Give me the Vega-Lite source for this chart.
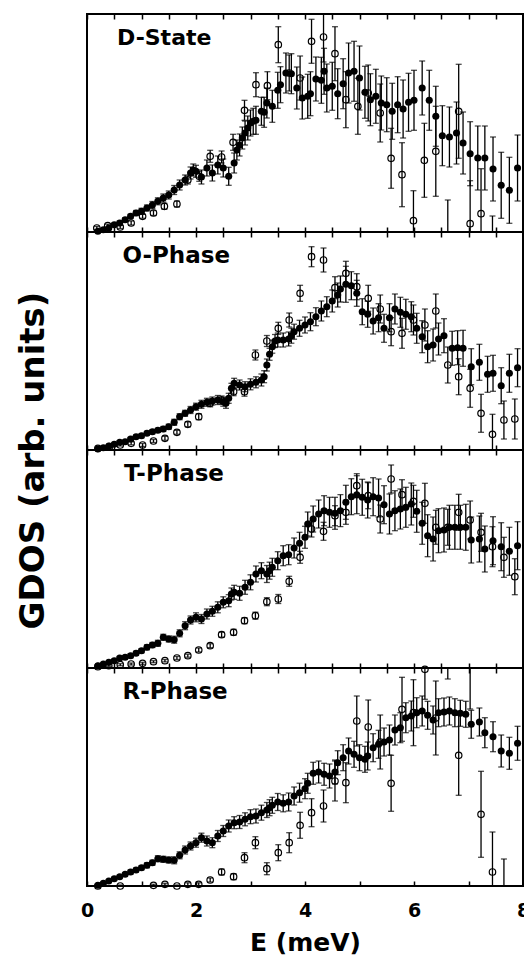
{
"$schema": "https://vega.github.io/schema/vega-lite/v6.json",
"padding": {"left": 14, "top": 12, "right": 0, "bottom": 0},
"spacing": 0,
"bounds": "flush",
"background": "white",
"datasets": {
"pts": [
{"p":"D","s":"f","E":0.2,"y":0.7,"e":1},{"p":"D","s":"f","E":0.3,"y":2.3,"e":1},{"p":"D","s":"f","E":0.4,"y":4,"e":1.5},{"p":"D","s":"f","E":0.5,"y":7.3,"e":1.5},{"p":"D","s":"f","E":0.6,"y":9,"e":2},{"p":"D","s":"f","E":0.7,"y":12.3,"e":2},{"p":"D","s":"f","E":0.8,"y":15.7,"e":2},{"p":"D","s":"f","E":0.9,"y":19,"e":2.5},{"p":"D","s":"f","E":1.0,"y":20.7,"e":3},{"p":"D","s":"f","E":1.1,"y":24,"e":3},{"p":"D","s":"f","E":1.2,"y":27,"e":3.5},{"p":"D","s":"f","E":1.3,"y":30.7,"e":3.5},{"p":"D","s":"f","E":1.4,"y":34,"e":4},{"p":"D","s":"f","E":1.5,"y":37,"e":4},{"p":"D","s":"f","E":1.6,"y":42,"e":4.5},{"p":"D","s":"f","E":1.7,"y":47,"e":5},{"p":"D","s":"f","E":1.8,"y":52,"e":5},{"p":"D","s":"f","E":1.9,"y":59,"e":6},{"p":"D","s":"f","E":1.95,"y":62,"e":6},{"p":"D","s":"f","E":2.0,"y":60.7,"e":6},{"p":"D","s":"f","E":2.1,"y":55,"e":7},{"p":"D","s":"f","E":2.2,"y":64,"e":8},{"p":"D","s":"f","E":2.3,"y":59,"e":8},{"p":"D","s":"f","E":2.4,"y":67,"e":9},{"p":"D","s":"f","E":2.5,"y":64,"e":9},{"p":"D","s":"f","E":2.6,"y":55.7,"e":9},{"p":"D","s":"f","E":2.7,"y":69,"e":10},{"p":"D","s":"f","E":2.75,"y":82,"e":10},{"p":"D","s":"f","E":2.8,"y":87,"e":11},{"p":"D","s":"f","E":2.85,"y":94,"e":11},{"p":"D","s":"f","E":2.9,"y":99,"e":12},{"p":"D","s":"f","E":2.95,"y":104,"e":12},{"p":"D","s":"f","E":3.0,"y":109,"e":13},{"p":"D","s":"f","E":3.05,"y":110.7,"e":13},{"p":"D","s":"f","E":3.1,"y":111.7,"e":14},{"p":"D","s":"f","E":3.2,"y":120.7,"e":14},{"p":"D","s":"f","E":3.25,"y":119.7,"e":15},{"p":"D","s":"f","E":3.3,"y":129,"e":15},{"p":"D","s":"f","E":3.4,"y":125.7,"e":16},{"p":"D","s":"f","E":3.5,"y":141.7,"e":18},{"p":"D","s":"f","E":3.55,"y":147.3,"e":18},{"p":"D","s":"f","E":3.65,"y":159,"e":20},{"p":"D","s":"f","E":3.75,"y":158.3,"e":20},{"p":"D","s":"f","E":3.85,"y":144,"e":21},{"p":"D","s":"f","E":3.95,"y":134,"e":21},{"p":"D","s":"f","E":4.05,"y":135.7,"e":22},{"p":"D","s":"f","E":4.1,"y":138.3,"e":22},{"p":"D","s":"f","E":4.2,"y":153,"e":22},{"p":"D","s":"f","E":4.3,"y":151.7,"e":23},{"p":"D","s":"f","E":4.35,"y":160.7,"e":23},{"p":"D","s":"f","E":4.4,"y":144,"e":24},{"p":"D","s":"f","E":4.5,"y":145.7,"e":24},{"p":"D","s":"f","E":4.6,"y":138.3,"e":25},{"p":"D","s":"f","E":4.7,"y":148.3,"e":25},{"p":"D","s":"f","E":4.8,"y":159,"e":30},{"p":"D","s":"f","E":4.9,"y":160.7,"e":30},{"p":"D","s":"f","E":5.0,"y":154,"e":32},{"p":"D","s":"f","E":5.1,"y":139.7,"e":26},{"p":"D","s":"f","E":5.2,"y":132.3,"e":26},{"p":"D","s":"f","E":5.3,"y":135.7,"e":27},{"p":"D","s":"f","E":5.4,"y":129,"e":27},{"p":"D","s":"f","E":5.5,"y":127.3,"e":27},{"p":"D","s":"f","E":5.6,"y":120.7,"e":28},{"p":"D","s":"f","E":5.7,"y":127.3,"e":28},{"p":"D","s":"f","E":5.8,"y":123,"e":29},{"p":"D","s":"f","E":5.9,"y":129.7,"e":29},{"p":"D","s":"f","E":6.0,"y":131.7,"e":30},{"p":"D","s":"f","E":6.15,"y":144,"e":27},{"p":"D","s":"f","E":6.28,"y":131.7,"e":30},{"p":"D","s":"f","E":6.4,"y":115.7,"e":30},{"p":"D","s":"f","E":6.52,"y":96.3,"e":30},{"p":"D","s":"f","E":6.65,"y":95,"e":30},{"p":"D","s":"f","E":6.78,"y":99,"e":31},{"p":"D","s":"f","E":6.9,"y":89,"e":31},{"p":"D","s":"f","E":7.03,"y":78.3,"e":32},{"p":"D","s":"f","E":7.17,"y":74,"e":32},{"p":"D","s":"f","E":7.3,"y":74,"e":32},{"p":"D","s":"f","E":7.45,"y":63,"e":32},{"p":"D","s":"f","E":7.6,"y":46.7,"e":33},{"p":"D","s":"f","E":7.75,"y":41.7,"e":33},{"p":"D","s":"f","E":7.9,"y":64,"e":33},
{"p":"D","s":"o","E":0.18,"y":4,"e":1.5},{"p":"D","s":"o","E":0.38,"y":6.3,"e":1.5},{"p":"D","s":"o","E":0.61,"y":5,"e":1.5},{"p":"D","s":"o","E":0.81,"y":9,"e":2},{"p":"D","s":"o","E":1.02,"y":15.7,"e":2},{"p":"D","s":"o","E":1.22,"y":19,"e":2.5},{"p":"D","s":"o","E":1.42,"y":25.7,"e":3},{"p":"D","s":"o","E":1.65,"y":28,"e":3},{"p":"D","s":"o","E":1.85,"y":52,"e":4},{"p":"D","s":"o","E":2.06,"y":55.7,"e":5},{"p":"D","s":"o","E":2.26,"y":75.7,"e":6},{"p":"D","s":"o","E":2.47,"y":75,"e":6},{"p":"D","s":"o","E":2.68,"y":89.7,"e":8},{"p":"D","s":"o","E":2.89,"y":121.7,"e":10},{"p":"D","s":"o","E":3.1,"y":147.3,"e":12},{"p":"D","s":"o","E":3.31,"y":146.3,"e":14},{"p":"D","s":"o","E":3.51,"y":187.3,"e":18},{"p":"D","s":"o","E":3.71,"y":159,"e":18},{"p":"D","s":"o","E":3.91,"y":154,"e":22},{"p":"D","s":"o","E":4.12,"y":190.7,"e":22},{"p":"D","s":"o","E":4.34,"y":195,"e":25},{"p":"D","s":"o","E":4.55,"y":178.3,"e":27},{"p":"D","s":"o","E":4.75,"y":132.3,"e":28},{"p":"D","s":"o","E":4.97,"y":125.7,"e":28},{"p":"D","s":"o","E":5.16,"y":139,"e":28},{"p":"D","s":"o","E":5.38,"y":119,"e":29},{"p":"D","s":"o","E":5.58,"y":73.7,"e":30},{"p":"D","s":"o","E":5.78,"y":57.3,"e":32},{"p":"D","s":"o","E":5.99,"y":11.3,"e":30},{"p":"D","s":"o","E":6.19,"y":71.7,"e":37},{"p":"D","s":"o","E":6.4,"y":80.7,"e":45},{"p":"D","s":"o","E":6.62,"y":-8,"e":40},{"p":"D","s":"o","E":6.82,"y":120.7,"e":47},{"p":"D","s":"o","E":7.03,"y":8.3,"e":43},{"p":"D","s":"o","E":7.23,"y":18.3,"e":45},{"p":"D","s":"o","E":7.44,"y":-10,"e":26},
{"p":"O","s":"f","E":0.2,"y":1,"e":1},{"p":"O","s":"f","E":0.3,"y":2.3,"e":1},{"p":"O","s":"f","E":0.4,"y":4,"e":1},{"p":"O","s":"f","E":0.5,"y":5.7,"e":1},{"p":"O","s":"f","E":0.6,"y":7.7,"e":1.5},{"p":"O","s":"f","E":0.7,"y":8.3,"e":1.5},{"p":"O","s":"f","E":0.8,"y":11,"e":1.5},{"p":"O","s":"f","E":0.9,"y":13.3,"e":1.5},{"p":"O","s":"f","E":1.0,"y":14.3,"e":2},{"p":"O","s":"f","E":1.1,"y":16.7,"e":2},{"p":"O","s":"f","E":1.2,"y":18.3,"e":2},{"p":"O","s":"f","E":1.3,"y":19.7,"e":2},{"p":"O","s":"f","E":1.4,"y":21,"e":2.5},{"p":"O","s":"f","E":1.5,"y":23.3,"e":2.5},{"p":"O","s":"f","E":1.6,"y":27.7,"e":3},{"p":"O","s":"f","E":1.7,"y":33.3,"e":3},{"p":"O","s":"f","E":1.8,"y":36.7,"e":3},{"p":"O","s":"f","E":1.9,"y":40,"e":3.5},{"p":"O","s":"f","E":2.0,"y":43.3,"e":3.5},{"p":"O","s":"f","E":2.1,"y":45.7,"e":4},{"p":"O","s":"f","E":2.2,"y":47.7,"e":4},{"p":"O","s":"f","E":2.3,"y":49,"e":4},{"p":"O","s":"f","E":2.4,"y":50,"e":4.5},{"p":"O","s":"f","E":2.5,"y":48.3,"e":4.5},{"p":"O","s":"f","E":2.55,"y":46.7,"e":5},{"p":"O","s":"f","E":2.6,"y":51.7,"e":5},{"p":"O","s":"f","E":2.65,"y":61.7,"e":5},{"p":"O","s":"f","E":2.7,"y":66.7,"e":5},{"p":"O","s":"f","E":2.8,"y":65,"e":5},{"p":"O","s":"f","E":2.9,"y":63.3,"e":5},{"p":"O","s":"f","E":3.0,"y":65.7,"e":5.5},{"p":"O","s":"f","E":3.1,"y":67.7,"e":5.5},{"p":"O","s":"f","E":3.2,"y":70,"e":6},{"p":"O","s":"f","E":3.25,"y":73.3,"e":6},{"p":"O","s":"f","E":3.3,"y":85,"e":6},{"p":"O","s":"f","E":3.35,"y":95.7,"e":6},{"p":"O","s":"f","E":3.4,"y":103.3,"e":6.5},{"p":"O","s":"f","E":3.45,"y":109,"e":6.5},{"p":"O","s":"f","E":3.5,"y":110,"e":7},{"p":"O","s":"f","E":3.6,"y":110,"e":7},{"p":"O","s":"f","E":3.7,"y":111,"e":7},{"p":"O","s":"f","E":3.75,"y":114.3,"e":7.5},{"p":"O","s":"f","E":3.8,"y":118.3,"e":7.5},{"p":"O","s":"f","E":3.9,"y":121.7,"e":8},{"p":"O","s":"f","E":4.0,"y":125,"e":8},{"p":"O","s":"f","E":4.1,"y":128.3,"e":9},{"p":"O","s":"f","E":4.2,"y":133.3,"e":9},{"p":"O","s":"f","E":4.3,"y":139,"e":10},{"p":"O","s":"f","E":4.4,"y":143.3,"e":10},{"p":"O","s":"f","E":4.5,"y":149,"e":11},{"p":"O","s":"f","E":4.6,"y":155,"e":12},{"p":"O","s":"f","E":4.65,"y":161,"e":13},{"p":"O","s":"f","E":4.75,"y":165.7,"e":18},{"p":"O","s":"f","E":4.85,"y":164.3,"e":14},{"p":"O","s":"f","E":4.95,"y":156.7,"e":13},{"p":"O","s":"f","E":5.05,"y":138.3,"e":13},{"p":"O","s":"f","E":5.15,"y":135.7,"e":13},{"p":"O","s":"f","E":5.25,"y":129,"e":13},{"p":"O","s":"f","E":5.35,"y":132.3,"e":14},{"p":"O","s":"f","E":5.45,"y":121.7,"e":14},{"p":"O","s":"f","E":5.55,"y":132.3,"e":14},{"p":"O","s":"f","E":5.65,"y":141,"e":15},{"p":"O","s":"f","E":5.75,"y":137.7,"e":15},{"p":"O","s":"f","E":5.85,"y":135.7,"e":15},{"p":"O","s":"f","E":5.95,"y":133.3,"e":15},{"p":"O","s":"f","E":6.05,"y":121.7,"e":15},{"p":"O","s":"f","E":6.15,"y":113.3,"e":16},{"p":"O","s":"f","E":6.25,"y":103.3,"e":16},{"p":"O","s":"f","E":6.35,"y":105,"e":16},{"p":"O","s":"f","E":6.45,"y":111,"e":16},{"p":"O","s":"f","E":6.55,"y":114.3,"e":17},{"p":"O","s":"f","E":6.7,"y":101.7,"e":17},{"p":"O","s":"f","E":6.8,"y":102.3,"e":17},{"p":"O","s":"f","E":6.9,"y":101.7,"e":18},{"p":"O","s":"f","E":7.05,"y":83.3,"e":18},{"p":"O","s":"f","E":7.2,"y":87.7,"e":18},{"p":"O","s":"f","E":7.35,"y":75.7,"e":18},{"p":"O","s":"f","E":7.45,"y":76.7,"e":18},{"p":"O","s":"f","E":7.6,"y":64.3,"e":18},{"p":"O","s":"f","E":7.75,"y":76.7,"e":19},{"p":"O","s":"f","E":7.9,"y":82.3,"e":19},
{"p":"O","s":"o","E":0.2,"y":1.7,"e":1},{"p":"O","s":"o","E":0.41,"y":3.3,"e":1},{"p":"O","s":"o","E":0.61,"y":5,"e":1},{"p":"O","s":"o","E":0.81,"y":6.7,"e":1.5},{"p":"O","s":"o","E":1.02,"y":5,"e":1.5},{"p":"O","s":"o","E":1.22,"y":9,"e":1.5},{"p":"O","s":"o","E":1.43,"y":11.7,"e":2},{"p":"O","s":"o","E":1.65,"y":17.7,"e":2},{"p":"O","s":"o","E":1.85,"y":25.7,"e":2.5},{"p":"O","s":"o","E":2.05,"y":33.3,"e":3},{"p":"O","s":"o","E":2.26,"y":46.7,"e":3.5},{"p":"O","s":"o","E":2.47,"y":50,"e":4},{"p":"O","s":"o","E":2.69,"y":58.3,"e":4},{"p":"O","s":"o","E":2.89,"y":58.3,"e":4.5},{"p":"O","s":"o","E":3.09,"y":95,"e":5},{"p":"O","s":"o","E":3.3,"y":109,"e":5.5},{"p":"O","s":"o","E":3.51,"y":121.7,"e":6},{"p":"O","s":"o","E":3.71,"y":130,"e":7},{"p":"O","s":"o","E":3.91,"y":156.7,"e":8},{"p":"O","s":"o","E":4.12,"y":193.3,"e":10},{"p":"O","s":"o","E":4.34,"y":190,"e":12},{"p":"O","s":"o","E":4.55,"y":162.3,"e":11},{"p":"O","s":"o","E":4.75,"y":176.7,"e":12},{"p":"O","s":"o","E":4.95,"y":163.3,"e":13},{"p":"O","s":"o","E":5.16,"y":151.7,"e":13},{"p":"O","s":"o","E":5.38,"y":141,"e":14},{"p":"O","s":"o","E":5.58,"y":118.3,"e":14},{"p":"O","s":"o","E":5.78,"y":116.7,"e":15},{"p":"O","s":"o","E":5.99,"y":130,"e":15},{"p":"O","s":"o","E":6.2,"y":125,"e":16},{"p":"O","s":"o","E":6.4,"y":139,"e":17},{"p":"O","s":"o","E":6.62,"y":85,"e":18},{"p":"O","s":"o","E":6.82,"y":73.3,"e":18},{"p":"O","s":"o","E":7.03,"y":61.7,"e":19},{"p":"O","s":"o","E":7.23,"y":36.7,"e":19},{"p":"O","s":"o","E":7.44,"y":15.7,"e":20},{"p":"O","s":"o","E":7.65,"y":30,"e":19},{"p":"O","s":"o","E":7.85,"y":31,"e":20},
{"p":"T","s":"f","E":0.2,"y":2.3,"e":1},{"p":"T","s":"f","E":0.3,"y":4,"e":1},{"p":"T","s":"f","E":0.4,"y":5.7,"e":1},{"p":"T","s":"f","E":0.5,"y":7.3,"e":1.5},{"p":"T","s":"f","E":0.6,"y":10,"e":1.5},{"p":"T","s":"f","E":0.7,"y":10.7,"e":1.5},{"p":"T","s":"f","E":0.8,"y":12.3,"e":2},{"p":"T","s":"f","E":0.9,"y":14.7,"e":2},{"p":"T","s":"f","E":1.0,"y":17.3,"e":2},{"p":"T","s":"f","E":1.1,"y":20.7,"e":2.5},{"p":"T","s":"f","E":1.2,"y":23,"e":2.5},{"p":"T","s":"f","E":1.3,"y":24.7,"e":3},{"p":"T","s":"f","E":1.4,"y":30.7,"e":3},{"p":"T","s":"f","E":1.5,"y":29,"e":3},{"p":"T","s":"f","E":1.6,"y":28.3,"e":3.5},{"p":"T","s":"f","E":1.7,"y":34.7,"e":3.5},{"p":"T","s":"f","E":1.8,"y":42.3,"e":4},{"p":"T","s":"f","E":1.9,"y":48,"e":4},{"p":"T","s":"f","E":2.0,"y":50.7,"e":4.5},{"p":"T","s":"f","E":2.1,"y":49,"e":4.5},{"p":"T","s":"f","E":2.2,"y":54,"e":5},{"p":"T","s":"f","E":2.3,"y":56.7,"e":5},{"p":"T","s":"f","E":2.4,"y":60.7,"e":5.5},{"p":"T","s":"f","E":2.5,"y":65.7,"e":5.5},{"p":"T","s":"f","E":2.6,"y":67.3,"e":6},{"p":"T","s":"f","E":2.65,"y":74,"e":6},{"p":"T","s":"f","E":2.7,"y":75.7,"e":7},{"p":"T","s":"f","E":2.8,"y":74.7,"e":7},{"p":"T","s":"f","E":2.9,"y":80.7,"e":7},{"p":"T","s":"f","E":3.0,"y":85.7,"e":7.5},{"p":"T","s":"f","E":3.1,"y":94,"e":8},{"p":"T","s":"f","E":3.2,"y":97.3,"e":8},{"p":"T","s":"f","E":3.3,"y":94,"e":8.5},{"p":"T","s":"f","E":3.35,"y":97.3,"e":8.5},{"p":"T","s":"f","E":3.4,"y":100.7,"e":9},{"p":"T","s":"f","E":3.5,"y":107.3,"e":9},{"p":"T","s":"f","E":3.6,"y":112.3,"e":10},{"p":"T","s":"f","E":3.7,"y":113.3,"e":10},{"p":"T","s":"f","E":3.8,"y":120,"e":10},{"p":"T","s":"f","E":3.9,"y":124.7,"e":11},{"p":"T","s":"f","E":4.0,"y":130.7,"e":11},{"p":"T","s":"f","E":4.05,"y":144,"e":12},{"p":"T","s":"f","E":4.15,"y":149,"e":13},{"p":"T","s":"f","E":4.25,"y":154,"e":14},{"p":"T","s":"f","E":4.35,"y":157.3,"e":15},{"p":"T","s":"f","E":4.45,"y":155.7,"e":15},{"p":"T","s":"f","E":4.55,"y":154.7,"e":16},{"p":"T","s":"f","E":4.65,"y":157.3,"e":16},{"p":"T","s":"f","E":4.75,"y":165.7,"e":17},{"p":"T","s":"f","E":4.85,"y":171.3,"e":18},{"p":"T","s":"f","E":4.95,"y":173.3,"e":19},{"p":"T","s":"f","E":5.05,"y":170.7,"e":18},{"p":"T","s":"f","E":5.15,"y":168,"e":18},{"p":"T","s":"f","E":5.25,"y":171.3,"e":19},{"p":"T","s":"f","E":5.35,"y":170,"e":19},{"p":"T","s":"f","E":5.45,"y":163.3,"e":19},{"p":"T","s":"f","E":5.55,"y":154,"e":20},{"p":"T","s":"f","E":5.65,"y":157.3,"e":20},{"p":"T","s":"f","E":5.75,"y":159,"e":20},{"p":"T","s":"f","E":5.85,"y":160.7,"e":20},{"p":"T","s":"f","E":5.95,"y":164,"e":21},{"p":"T","s":"f","E":6.05,"y":156.7,"e":21},{"p":"T","s":"f","E":6.15,"y":144.7,"e":21},{"p":"T","s":"f","E":6.25,"y":132.3,"e":21},{"p":"T","s":"f","E":6.35,"y":129,"e":22},{"p":"T","s":"f","E":6.45,"y":137.3,"e":22},{"p":"T","s":"f","E":6.55,"y":138,"e":22},{"p":"T","s":"f","E":6.65,"y":140.7,"e":22},{"p":"T","s":"f","E":6.75,"y":140.7,"e":22},{"p":"T","s":"f","E":6.85,"y":140.7,"e":22},{"p":"T","s":"f","E":6.95,"y":140.7,"e":23},{"p":"T","s":"f","E":7.05,"y":128,"e":23},{"p":"T","s":"f","E":7.2,"y":129,"e":23},{"p":"T","s":"f","E":7.3,"y":119,"e":23},{"p":"T","s":"f","E":7.45,"y":127.3,"e":24},{"p":"T","s":"f","E":7.6,"y":121.3,"e":24},{"p":"T","s":"f","E":7.75,"y":116.7,"e":24},{"p":"T","s":"f","E":7.9,"y":122.3,"e":24},
{"p":"T","s":"o","E":0.2,"y":1.3,"e":0.8},{"p":"T","s":"o","E":0.4,"y":2.3,"e":0.8},{"p":"T","s":"o","E":0.61,"y":3.3,"e":1},{"p":"T","s":"o","E":0.81,"y":4,"e":1},{"p":"T","s":"o","E":1.02,"y":4.7,"e":1},{"p":"T","s":"o","E":1.22,"y":6.3,"e":1},{"p":"T","s":"o","E":1.43,"y":7.3,"e":1.2},{"p":"T","s":"o","E":1.65,"y":10,"e":1.5},{"p":"T","s":"o","E":1.85,"y":12.3,"e":1.5},{"p":"T","s":"o","E":2.05,"y":18,"e":2},{"p":"T","s":"o","E":2.26,"y":22.3,"e":2},{"p":"T","s":"o","E":2.47,"y":33.3,"e":2.5},{"p":"T","s":"o","E":2.69,"y":35.7,"e":3},{"p":"T","s":"o","E":2.89,"y":47.3,"e":3},{"p":"T","s":"o","E":3.09,"y":52.3,"e":3.5},{"p":"T","s":"o","E":3.3,"y":66.3,"e":4},{"p":"T","s":"o","E":3.51,"y":69,"e":4.5},{"p":"T","s":"o","E":3.71,"y":86.7,"e":5},{"p":"T","s":"o","E":3.91,"y":110.7,"e":6},{"p":"T","s":"o","E":4.12,"y":139,"e":8},{"p":"T","s":"o","E":4.34,"y":136.7,"e":9},{"p":"T","s":"o","E":4.55,"y":152.3,"e":10},{"p":"T","s":"o","E":4.75,"y":155.7,"e":12},{"p":"T","s":"o","E":4.95,"y":182.3,"e":12},{"p":"T","s":"o","E":5.16,"y":172.3,"e":13},{"p":"T","s":"o","E":5.38,"y":149,"e":14},{"p":"T","s":"o","E":5.58,"y":189,"e":14},{"p":"T","s":"o","E":5.78,"y":173.3,"e":15},{"p":"T","s":"o","E":5.99,"y":166.7,"e":16},{"p":"T","s":"o","E":6.2,"y":164.7,"e":20},{"p":"T","s":"o","E":6.4,"y":140.7,"e":17},{"p":"T","s":"o","E":6.62,"y":140.7,"e":18},{"p":"T","s":"o","E":6.82,"y":155.7,"e":18},{"p":"T","s":"o","E":7.03,"y":148,"e":19},{"p":"T","s":"o","E":7.23,"y":135.7,"e":19},{"p":"T","s":"o","E":7.44,"y":121.3,"e":20},{"p":"T","s":"o","E":7.65,"y":110.7,"e":20},{"p":"T","s":"o","E":7.85,"y":91.3,"e":18},
{"p":"R","s":"f","E":0.2,"y":0.7,"e":1},{"p":"R","s":"f","E":0.3,"y":2.7,"e":1},{"p":"R","s":"f","E":0.4,"y":5,"e":1},{"p":"R","s":"f","E":0.5,"y":7.3,"e":1.5},{"p":"R","s":"f","E":0.6,"y":9.3,"e":1.5},{"p":"R","s":"f","E":0.7,"y":11.7,"e":1.5},{"p":"R","s":"f","E":0.8,"y":14,"e":2},{"p":"R","s":"f","E":0.9,"y":16,"e":2},{"p":"R","s":"f","E":1.0,"y":18.3,"e":2},{"p":"R","s":"f","E":1.1,"y":20.7,"e":2.5},{"p":"R","s":"f","E":1.2,"y":23.3,"e":2.5},{"p":"R","s":"f","E":1.3,"y":27.3,"e":3},{"p":"R","s":"f","E":1.4,"y":26.7,"e":3},{"p":"R","s":"f","E":1.5,"y":26,"e":3},{"p":"R","s":"f","E":1.6,"y":25.7,"e":3.5},{"p":"R","s":"f","E":1.7,"y":30.7,"e":3.5},{"p":"R","s":"f","E":1.8,"y":36,"e":4},{"p":"R","s":"f","E":1.9,"y":40,"e":4},{"p":"R","s":"f","E":2.0,"y":43.3,"e":4.5},{"p":"R","s":"f","E":2.1,"y":48.3,"e":4.5},{"p":"R","s":"f","E":2.2,"y":45,"e":5},{"p":"R","s":"f","E":2.3,"y":43.3,"e":5},{"p":"R","s":"f","E":2.4,"y":50,"e":5.5},{"p":"R","s":"f","E":2.5,"y":55,"e":5.5},{"p":"R","s":"f","E":2.6,"y":60,"e":6},{"p":"R","s":"f","E":2.7,"y":63.3,"e":6},{"p":"R","s":"f","E":2.8,"y":64,"e":6.5},{"p":"R","s":"f","E":2.9,"y":66.7,"e":6.5},{"p":"R","s":"f","E":3.0,"y":69.3,"e":7},{"p":"R","s":"f","E":3.1,"y":70,"e":7},{"p":"R","s":"f","E":3.2,"y":73.3,"e":7.5},{"p":"R","s":"f","E":3.3,"y":76,"e":7.5},{"p":"R","s":"f","E":3.35,"y":78.3,"e":8},{"p":"R","s":"f","E":3.4,"y":80.7,"e":8},{"p":"R","s":"f","E":3.5,"y":84,"e":8.5},{"p":"R","s":"f","E":3.6,"y":82.7,"e":8.5},{"p":"R","s":"f","E":3.7,"y":84,"e":9},{"p":"R","s":"f","E":3.8,"y":90,"e":9},{"p":"R","s":"f","E":3.9,"y":93.3,"e":9.5},{"p":"R","s":"f","E":4.0,"y":97.3,"e":10},{"p":"R","s":"f","E":4.05,"y":102.7,"e":10},{"p":"R","s":"f","E":4.15,"y":112.7,"e":11},{"p":"R","s":"f","E":4.25,"y":114,"e":11},{"p":"R","s":"f","E":4.35,"y":111.7,"e":11},{"p":"R","s":"f","E":4.45,"y":110,"e":12},{"p":"R","s":"f","E":4.55,"y":114,"e":12},{"p":"R","s":"f","E":4.6,"y":123.3,"e":12},{"p":"R","s":"f","E":4.7,"y":128.3,"e":13},{"p":"R","s":"f","E":4.8,"y":135,"e":13},{"p":"R","s":"f","E":4.9,"y":131.7,"e":13},{"p":"R","s":"f","E":5.0,"y":128.3,"e":13},{"p":"R","s":"f","E":5.1,"y":126.7,"e":13},{"p":"R","s":"f","E":5.15,"y":130,"e":14},{"p":"R","s":"f","E":5.25,"y":138.3,"e":14},{"p":"R","s":"f","E":5.35,"y":141.7,"e":14},{"p":"R","s":"f","E":5.45,"y":144,"e":14},{"p":"R","s":"f","E":5.55,"y":146,"e":15},{"p":"R","s":"f","E":5.65,"y":156,"e":15},{"p":"R","s":"f","E":5.75,"y":158.3,"e":15},{"p":"R","s":"f","E":5.85,"y":168.3,"e":15},{"p":"R","s":"f","E":5.95,"y":170,"e":15},{"p":"R","s":"f","E":6.05,"y":173.3,"e":15},{"p":"R","s":"f","E":6.15,"y":175,"e":15},{"p":"R","s":"f","E":6.25,"y":170.7,"e":14},{"p":"R","s":"f","E":6.35,"y":166,"e":14},{"p":"R","s":"f","E":6.45,"y":173.3,"e":14},{"p":"R","s":"f","E":6.55,"y":174,"e":14},{"p":"R","s":"f","E":6.65,"y":175,"e":14},{"p":"R","s":"f","E":6.75,"y":173.3,"e":14},{"p":"R","s":"f","E":6.85,"y":172.7,"e":13},{"p":"R","s":"f","E":6.95,"y":171.7,"e":13},{"p":"R","s":"f","E":7.05,"y":161.7,"e":14},{"p":"R","s":"f","E":7.2,"y":164,"e":14},{"p":"R","s":"f","E":7.3,"y":153.3,"e":15},{"p":"R","s":"f","E":7.45,"y":149.3,"e":15},{"p":"R","s":"f","E":7.6,"y":135,"e":16},{"p":"R","s":"f","E":7.75,"y":132.7,"e":16},{"p":"R","s":"f","E":7.9,"y":142.7,"e":17},
{"p":"R","s":"o","E":0.2,"y":0,"e":1},{"p":"R","s":"o","E":0.61,"y":0,"e":1},{"p":"R","s":"o","E":1.22,"y":0.7,"e":1},{"p":"R","s":"o","E":1.43,"y":1.7,"e":1},{"p":"R","s":"o","E":1.65,"y":0,"e":1},{"p":"R","s":"o","E":1.85,"y":1.7,"e":1.5},{"p":"R","s":"o","E":2.05,"y":1.7,"e":1.5},{"p":"R","s":"o","E":2.26,"y":6,"e":2},{"p":"R","s":"o","E":2.47,"y":14,"e":3},{"p":"R","s":"o","E":2.69,"y":9.3,"e":3},{"p":"R","s":"o","E":2.89,"y":28.3,"e":5},{"p":"R","s":"o","E":3.09,"y":43.3,"e":6},{"p":"R","s":"o","E":3.3,"y":17.3,"e":6},{"p":"R","s":"o","E":3.51,"y":33.3,"e":8},{"p":"R","s":"o","E":3.71,"y":43.3,"e":10},{"p":"R","s":"o","E":3.91,"y":60.7,"e":13},{"p":"R","s":"o","E":4.12,"y":73.3,"e":14},{"p":"R","s":"o","E":4.34,"y":80,"e":16},{"p":"R","s":"o","E":4.55,"y":105,"e":20},{"p":"R","s":"o","E":4.75,"y":103.3,"e":20},{"p":"R","s":"o","E":4.95,"y":165,"e":25},{"p":"R","s":"o","E":5.16,"y":159,"e":27},{"p":"R","s":"o","E":5.38,"y":144,"e":27},{"p":"R","s":"o","E":5.58,"y":102.7,"e":28},{"p":"R","s":"o","E":5.78,"y":176.7,"e":32},{"p":"R","s":"o","E":5.99,"y":173.3,"e":33},{"p":"R","s":"o","E":6.2,"y":216.7,"e":30},{"p":"R","s":"o","E":6.4,"y":168,"e":37},{"p":"R","s":"o","E":6.62,"y":240,"e":33},{"p":"R","s":"o","E":6.82,"y":130.7,"e":40},{"p":"R","s":"o","E":7.03,"y":240,"e":63},{"p":"R","s":"o","E":7.23,"y":71.7,"e":43},{"p":"R","s":"o","E":7.44,"y":14,"e":40},{"p":"R","s":"o","E":7.65,"y":-12,"e":39}
],
"lab": [
{"p":"D","t":"D-State","E":0.55,"y":187},
{"p":"O","t":"O-Phase","E":0.65,"y":187},
{"p":"T","t":"T-Phase","E":0.68,"y":187},
{"p":"R","t":"R-Phase","E":0.65,"y":187}
]
},
"vconcat": [
{
"width": 436, "height": 218,
"resolve": {"axis": {"x": "independent"}},
"layer": [
{"data": {"name": "pts"}, "transform": [{"filter": "datum.p == 'D'"}],
 "mark": {"type": "errorbar", "ticks": true, "size": 6, "thickness": 1.3, "color": "black", "clip": true},
 "encoding": {
  "x": {"field": "E", "type": "quantitative", "scale": {"domain": [0, 8], "nice": false}, "axis": {"orient": "bottom", "values": [0,0.5,1,1.5,2,2.5,3,3.5,4,4.5,5,5.5,6,6.5,7,7.5,8], "tickSize": -5, "tickWidth": 1.5, "tickColor": "black", "labels": false, "domain": false, "grid": false, "title": null}},
  "y": {"field": "y", "type": "quantitative", "scale": {"domain": [0, 218], "nice": false, "zero": false}, "axis": null},
  "yError": {"field": "e"}
 }},
{"data": {"name": "pts"}, "transform": [{"filter": "datum.p == 'D' && datum.s == 'f' && datum.y >= -3 && datum.y <= 220"}],
 "mark": {"type": "point", "shape": "circle", "filled": true, "color": "black", "size": 50, "opacity": 1},
 "encoding": {
  "x": {"field": "E", "type": "quantitative", "axis": {"orient": "top", "values": [0,0.5,1,1.5,2,2.5,3,3.5,4,4.5,5,5.5,6,6.5,7,7.5,8], "tickSize": -5, "tickWidth": 1.5, "tickColor": "black", "labels": false, "domain": false, "grid": false, "title": null}},
  "y": {"field": "y", "type": "quantitative", "axis": null}
 }},
{"data": {"name": "pts"}, "transform": [{"filter": "datum.p == 'D' && datum.s == 'o' && datum.y >= -3 && datum.y <= 220"}],
 "mark": {"type": "point", "shape": "circle", "filled": false, "stroke": "black", "strokeWidth": 1.2, "size": 42, "opacity": 1},
 "encoding": {
  "x": {"field": "E", "type": "quantitative", "axis": null},
  "y": {"field": "y", "type": "quantitative", "axis": null}
 }},
{"data": {"name": "lab"}, "transform": [{"filter": "datum.p == 'D'"}],
 "mark": {"type": "text", "align": "left", "baseline": "alphabetic", "font": "DejaVu Sans", "fontWeight": "bold", "fontSize": 22, "color": "black"},
 "encoding": {
  "x": {"field": "E", "type": "quantitative", "axis": null},
  "y": {"field": "y", "type": "quantitative", "axis": null},
  "text": {"field": "t"}
 }}
]
},
{
"width": 436, "height": 218,
"resolve": {"axis": {"x": "independent"}},
"layer": [
{"data": {"name": "pts"}, "transform": [{"filter": "datum.p == 'O'"}],
 "mark": {"type": "errorbar", "ticks": true, "size": 6, "thickness": 1.3, "color": "black", "clip": true},
 "encoding": {
  "x": {"field": "E", "type": "quantitative", "scale": {"domain": [0, 8], "nice": false}, "axis": {"orient": "bottom", "values": [0,0.5,1,1.5,2,2.5,3,3.5,4,4.5,5,5.5,6,6.5,7,7.5,8], "tickSize": -5, "tickWidth": 1.5, "tickColor": "black", "labels": false, "domain": false, "grid": false, "title": null}},
  "y": {"field": "y", "type": "quantitative", "scale": {"domain": [0, 218], "nice": false, "zero": false}, "axis": {"title": "GDOS (arb. units)", "labels": false, "ticks": false, "domain": false, "grid": false, "titleFont": "DejaVu Sans", "titleFontSize": 34, "titleFontWeight": "bold", "titleColor": "black", "titleAngle": 270, "titleAlign": "center", "titleBaseline": "alphabetic", "titleX": -44, "titleY": 228}},
  "yError": {"field": "e"}
 }},
{"data": {"name": "pts"}, "transform": [{"filter": "datum.p == 'O' && datum.s == 'f' && datum.y >= -3 && datum.y <= 220"}],
 "mark": {"type": "point", "shape": "circle", "filled": true, "color": "black", "size": 50, "opacity": 1},
 "encoding": {
  "x": {"field": "E", "type": "quantitative", "axis": {"orient": "top", "values": [0,0.5,1,1.5,2,2.5,3,3.5,4,4.5,5,5.5,6,6.5,7,7.5,8], "tickSize": -5, "tickWidth": 1.5, "tickColor": "black", "labels": false, "domain": false, "grid": false, "title": null}},
  "y": {"field": "y", "type": "quantitative", "axis": {"title": "GDOS (arb. units)", "labels": false, "ticks": false, "domain": false, "grid": false, "titleFont": "DejaVu Sans", "titleFontSize": 34, "titleFontWeight": "bold", "titleColor": "black", "titleAngle": 270, "titleAlign": "center", "titleBaseline": "alphabetic", "titleX": -44, "titleY": 228}}
 }},
{"data": {"name": "pts"}, "transform": [{"filter": "datum.p == 'O' && datum.s == 'o' && datum.y >= -3 && datum.y <= 220"}],
 "mark": {"type": "point", "shape": "circle", "filled": false, "stroke": "black", "strokeWidth": 1.2, "size": 42, "opacity": 1},
 "encoding": {
  "x": {"field": "E", "type": "quantitative", "axis": null},
  "y": {"field": "y", "type": "quantitative", "axis": {"title": "GDOS (arb. units)", "labels": false, "ticks": false, "domain": false, "grid": false, "titleFont": "DejaVu Sans", "titleFontSize": 34, "titleFontWeight": "bold", "titleColor": "black", "titleAngle": 270, "titleAlign": "center", "titleBaseline": "alphabetic", "titleX": -44, "titleY": 228}}
 }},
{"data": {"name": "lab"}, "transform": [{"filter": "datum.p == 'O'"}],
 "mark": {"type": "text", "align": "left", "baseline": "alphabetic", "font": "DejaVu Sans", "fontWeight": "bold", "fontSize": 23, "color": "black"},
 "encoding": {
  "x": {"field": "E", "type": "quantitative", "axis": null},
  "y": {"field": "y", "type": "quantitative", "axis": {"title": "GDOS (arb. units)", "labels": false, "ticks": false, "domain": false, "grid": false, "titleFont": "DejaVu Sans", "titleFontSize": 34, "titleFontWeight": "bold", "titleColor": "black", "titleAngle": 270, "titleAlign": "center", "titleBaseline": "alphabetic", "titleX": -44, "titleY": 228}},
  "text": {"field": "t"}
 }}
]
},
{
"width": 436, "height": 218,
"resolve": {"axis": {"x": "independent"}},
"layer": [
{"data": {"name": "pts"}, "transform": [{"filter": "datum.p == 'T'"}],
 "mark": {"type": "errorbar", "ticks": true, "size": 6, "thickness": 1.3, "color": "black", "clip": true},
 "encoding": {
  "x": {"field": "E", "type": "quantitative", "scale": {"domain": [0, 8], "nice": false}, "axis": {"orient": "bottom", "values": [0,0.5,1,1.5,2,2.5,3,3.5,4,4.5,5,5.5,6,6.5,7,7.5,8], "tickSize": -5, "tickWidth": 1.5, "tickColor": "black", "labels": false, "domain": false, "grid": false, "title": null}},
  "y": {"field": "y", "type": "quantitative", "scale": {"domain": [0, 218], "nice": false, "zero": false}, "axis": null},
  "yError": {"field": "e"}
 }},
{"data": {"name": "pts"}, "transform": [{"filter": "datum.p == 'T' && datum.s == 'f' && datum.y >= -3 && datum.y <= 220"}],
 "mark": {"type": "point", "shape": "circle", "filled": true, "color": "black", "size": 50, "opacity": 1},
 "encoding": {
  "x": {"field": "E", "type": "quantitative", "axis": {"orient": "top", "values": [0,0.5,1,1.5,2,2.5,3,3.5,4,4.5,5,5.5,6,6.5,7,7.5,8], "tickSize": -5, "tickWidth": 1.5, "tickColor": "black", "labels": false, "domain": false, "grid": false, "title": null}},
  "y": {"field": "y", "type": "quantitative", "axis": null}
 }},
{"data": {"name": "pts"}, "transform": [{"filter": "datum.p == 'T' && datum.s == 'o' && datum.y >= -3 && datum.y <= 220"}],
 "mark": {"type": "point", "shape": "circle", "filled": false, "stroke": "black", "strokeWidth": 1.2, "size": 42, "opacity": 1},
 "encoding": {
  "x": {"field": "E", "type": "quantitative", "axis": null},
  "y": {"field": "y", "type": "quantitative", "axis": null}
 }},
{"data": {"name": "lab"}, "transform": [{"filter": "datum.p == 'T'"}],
 "mark": {"type": "text", "align": "left", "baseline": "alphabetic", "font": "DejaVu Sans", "fontWeight": "bold", "fontSize": 23, "color": "black"},
 "encoding": {
  "x": {"field": "E", "type": "quantitative", "axis": null},
  "y": {"field": "y", "type": "quantitative", "axis": null},
  "text": {"field": "t"}
 }}
]
},
{
"width": 436, "height": 218,
"resolve": {"axis": {"x": "independent"}},
"layer": [
{"data": {"name": "pts"}, "transform": [{"filter": "datum.p == 'R'"}],
 "mark": {"type": "errorbar", "ticks": true, "size": 6, "thickness": 1.3, "color": "black", "clip": true},
 "encoding": {
  "x": {"field": "E", "type": "quantitative", "scale": {"domain": [0, 8], "nice": false}, "axis": {"orient": "bottom", "values": [0,0.5,1,1.5,2,2.5,3,3.5,4,4.5,5,5.5,6,6.5,7,7.5,8], "tickSize": -5, "tickWidth": 1.5, "tickColor": "black", "labels": true, "format": "d", "labelExpr": "datum.value % 2 === 0 ? datum.label : ''", "labelFlush": false, "labelOverlap": false, "labelBound": false, "labelFont": "DejaVu Sans", "labelFontWeight": "bold", "labelFontSize": 19, "labelColor": "black", "labelPadding": 20, "domain": false, "grid": false, "title": "E (meV)", "titleFont": "DejaVu Sans", "titleFontWeight": "bold", "titleFontSize": 25, "titleColor": "black", "titlePadding": 10}},
  "y": {"field": "y", "type": "quantitative", "scale": {"domain": [0, 218], "nice": false, "zero": false}, "axis": null},
  "yError": {"field": "e"}
 }},
{"data": {"name": "pts"}, "transform": [{"filter": "datum.p == 'R' && datum.s == 'f' && datum.y >= -3 && datum.y <= 220"}],
 "mark": {"type": "point", "shape": "circle", "filled": true, "color": "black", "size": 50, "opacity": 1},
 "encoding": {
  "x": {"field": "E", "type": "quantitative", "axis": {"orient": "top", "values": [0,0.5,1,1.5,2,2.5,3,3.5,4,4.5,5,5.5,6,6.5,7,7.5,8], "tickSize": -5, "tickWidth": 1.5, "tickColor": "black", "labels": false, "domain": false, "grid": false, "title": null}},
  "y": {"field": "y", "type": "quantitative", "axis": null}
 }},
{"data": {"name": "pts"}, "transform": [{"filter": "datum.p == 'R' && datum.s == 'o' && datum.y >= -3 && datum.y <= 220"}],
 "mark": {"type": "point", "shape": "circle", "filled": false, "stroke": "black", "strokeWidth": 1.2, "size": 42, "opacity": 1},
 "encoding": {
  "x": {"field": "E", "type": "quantitative", "axis": null},
  "y": {"field": "y", "type": "quantitative", "axis": null}
 }},
{"data": {"name": "lab"}, "transform": [{"filter": "datum.p == 'R'"}],
 "mark": {"type": "text", "align": "left", "baseline": "alphabetic", "font": "DejaVu Sans", "fontWeight": "bold", "fontSize": 23, "color": "black"},
 "encoding": {
  "x": {"field": "E", "type": "quantitative", "axis": null},
  "y": {"field": "y", "type": "quantitative", "axis": null},
  "text": {"field": "t"}
 }}
]
}
],
"config": {
 "view": {"stroke": "black", "strokeWidth": 2},
 "font": "DejaVu Sans"
}
}
